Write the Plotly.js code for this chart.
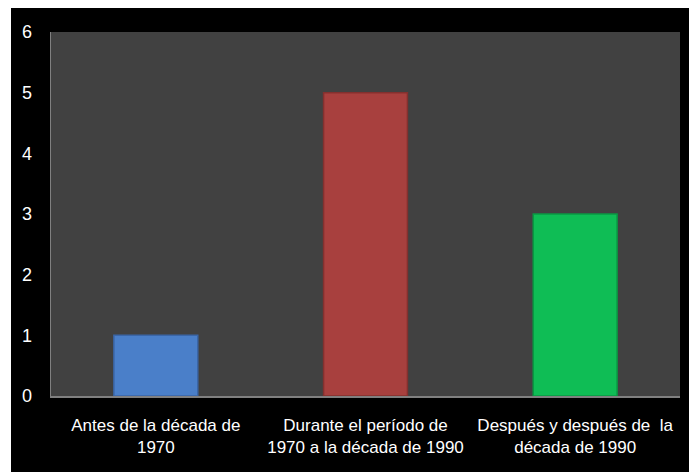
<!DOCTYPE html>
<html>
<head>
<meta charset="utf-8">
<script src="https://cdn.plot.ly/plotly-3.0.1.min.js"></script>
<style>
html,body{margin:0;padding:0;background:#ffffff;width:689px;height:472px;overflow:hidden;}
#chart{position:absolute;left:11px;top:8px;width:678px;height:464px;}
</style>
</head>
<body>
<div id="chart"></div>
<script>
const categories = [
  "Antes de la década de<br>1970",
  "Durante el período de<br>1970 a la década de 1990",
  "Después y después de  la<br>década de 1990"
];
const values = [1, 5, 3];
const barColors = ["#4a7fc9", "#a8403e", "#0fbd55"];
const barEdges = ["#3a66a8", "#83302e", "#0a9843"];
const yTicks = [0, 1, 2, 3, 4, 5, 6];

const trace = {
  type: "bar",
  x: categories,
  y: values,
  marker: {color: barColors, line: {color: barEdges, width: 1.5}},
  hoverinfo: "none"
};

const layout = {
  width: 678,
  height: 464,
  margin: {l: 40, r: 9, t: 24, b: 76},
  paper_bgcolor: "#000000",
  plot_bgcolor: "#414141",
  bargap: 0.6,
  showlegend: false,
  font: {family: "Liberation Sans Narrow, Liberation Sans, sans-serif", color: "#ffffff", size: 17},
  xaxis: {
    showgrid: false,
    showline: true,
    linecolor: "#808080",
    linewidth: 1.5,
    ticks: "",
    ticklabelstandoff: 13,
    tickfont: {size: 17, color: "#ffffff"},
    fixedrange: true
  },
  yaxis: {
    range: [0, 6],
    tickvals: yTicks,
    ticktext: yTicks.map(String),
    showgrid: false,
    zeroline: false,
    showline: true,
    linecolor: "#808080",
    linewidth: 1.5,
    ticks: "",
    ticklabelstandoff: 14,
    tickfont: {size: 18, color: "#ffffff"},
    fixedrange: true
  }
};

Plotly.newPlot("chart", [trace], layout, {displayModeBar: false, staticPlot: true});
</script>
</body>
</html>
